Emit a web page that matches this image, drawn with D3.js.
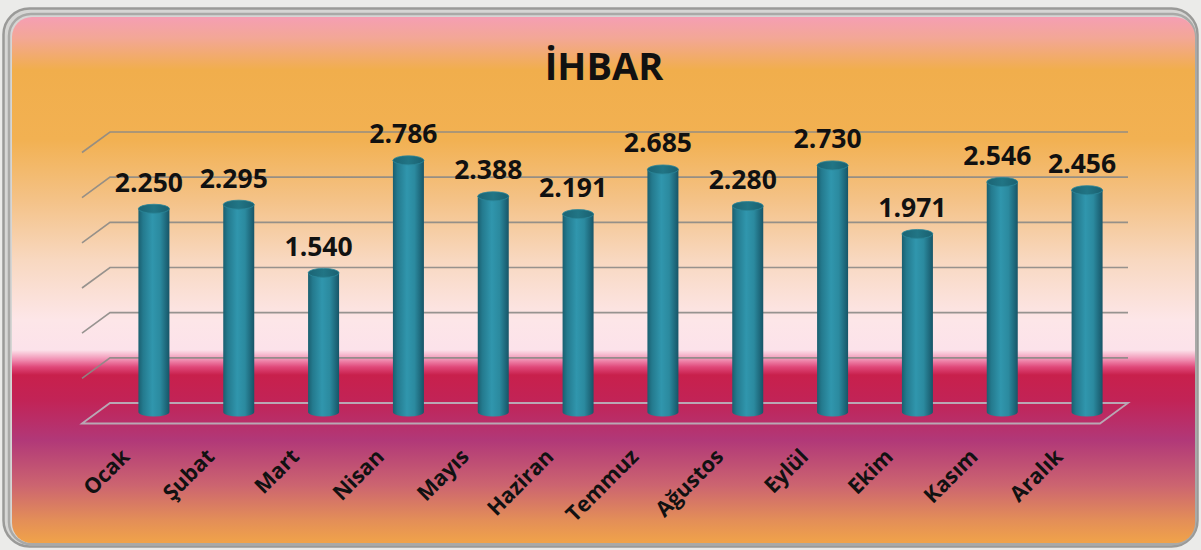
<!DOCTYPE html>
<html>
<head>
<meta charset="utf-8">
<script src="https://cdn.jsdelivr.net/npm/d3@7"></script>
<style>
  html, body { margin: 0; padding: 0; background: #ebebe9; }
  svg { display: block; }
</style>
</head>
<body>
<svg id="chart" width="1201" height="550"></svg>
<script>
// ---- data ----
const title = "İHBAR";
const months = ["Ocak","Şubat","Mart","Nisan","Mayıs","Haziran","Temmuz","Ağustos","Eylül","Ekim","Kasım","Aralık"];
const values = [2250, 2295, 1540, 2786, 2388, 2191, 2685, 2280, 2730, 1971, 2546, 2456];
const gridTicks = [500, 1000, 1500, 2000, 2500, 3000];
const yDomain = [0, 3000];

// ---- layout ----
const svg = d3.select("#chart");
const defs = svg.append("defs");

const wallLeft = 110, wallRight = 1128, wallBottom = 403, wallTop = 132;
const depthDx = -28, depthDy = 20.5;
const barBase = 412;

const locale = d3.formatLocale({decimal: ",", thousands: ".", grouping: [3], currency: ["", ""]});
const fmt = locale.format(",d");

// background gradient
const bg = defs.append("linearGradient").attr("id", "bg").attr("x1", 0).attr("x2", 0)
  .attr("gradientUnits", "userSpaceOnUse").attr("y1", 18).attr("y2", 542);
const span = 542 - 18;
[
  [18, "#f59fb2"], [38, "#f3a796"], [70, "#f1ae4c"], [140, "#f2b152"], [200, "#f4c287"],
  [260, "#f8d8c0"], [320, "#fde6e8"], [350, "#fce2ea"], [360, "#f08cb0"], [367, "#e0487a"],
  [375, "#c8204c"], [400, "#c22356"], [440, "#b13878"], [485, "#cc6470"], [520, "#e38e58"], [542, "#f0a24a"]
].forEach(([y, c]) => bg.append("stop").attr("offset", ((y - 18) / span)).attr("stop-color", c));

// cylinder gradient
const cyl = defs.append("linearGradient").attr("id", "cyl").attr("x1", 0).attr("x2", 1).attr("y1", 0).attr("y2", 0);
[[0, "#1a5f70"], [0.15, "#247a8e"], [0.45, "#3096ad"], [0.7, "#2b8a9f"], [1, "#175567"]]
  .forEach(([o, c]) => cyl.append("stop").attr("offset", o).attr("stop-color", c));
const capG = defs.append("linearGradient").attr("id", "cap").attr("x1", 0).attr("x2", 1).attr("y1", 0).attr("y2", 0);
[[0, "#1b6474"], [0.5, "#217585"], [1, "#1a6070"]]
  .forEach(([o, c]) => capG.append("stop").attr("offset", o).attr("stop-color", c));

// frame
svg.append("rect").attr("x", 3.5).attr("y", 8.5).attr("width", 1194).attr("height", 538)
  .attr("rx", 26).attr("fill", "#d6d6d4").attr("stroke", "#9a9a98").attr("stroke-width", 2.5);
svg.append("rect").attr("x", 9).attr("y", 14).attr("width", 1186).attr("height", 530)
  .attr("rx", 22).attr("fill", "none").attr("stroke", "#a9a9a7").attr("stroke-width", 2.5);
svg.append("rect").attr("x", 12).attr("y", 17).attr("width", 1183).attr("height", 526)
  .attr("rx", 20).attr("fill", "url(#bg)");

// title
svg.append("text").attr("x", 604).attr("y", 80).attr("text-anchor", "middle")
  .attr("font-family", "'Open Sans', sans-serif").attr("font-weight", "bold").attr("font-size", 38)
  .attr("fill", "#111").text(title);

// scales
const yWall = d3.scaleLinear().domain(yDomain).range([wallBottom, wallTop]);
const yBar = d3.scaleLinear().domain(yDomain).range([barBase, barBase - (wallBottom - wallTop)]);
const x = d3.scaleBand().domain(months).range([wallLeft + 1.5, wallRight + 1.5]).paddingInner(0).paddingOuter(0);

// gridlines on back wall + left side diagonals
const grid = svg.append("g");
gridTicks.forEach(t => {
  const y = yWall(t);
  grid.append("path")
    .attr("d", `M${wallLeft + depthDx},${y + depthDy}L${wallLeft},${y}L${wallRight},${y}`)
    .attr("fill", "none").attr("stroke", "#8c8a86").attr("stroke-width", 1.6).attr("stroke-opacity", 0.9);
});
// floor
const y0 = yWall(0);
grid.append("path")
  .attr("d", `M${wallLeft + depthDx},${y0 + depthDy}L${wallLeft},${y0}L${wallRight},${y0}L${wallRight + depthDx},${y0 + depthDy}Z`)
  .attr("fill", "none").attr("stroke", "#b9a7b4").attr("stroke-width", 1.8);

// bars (cylinders)
const rx = 15.5, ry = 4.5;
const bars = svg.append("g").selectAll("g").data(months).join("g");
bars.each(function (m, i) {
  const g = d3.select(this);
  const cx = x(m) + x.bandwidth() / 2;
  const yt = yBar(values[i]);
  g.append("path")
    .attr("d", `M${cx - rx},${yt}L${cx - rx},${barBase}A${rx},${ry} 0 0 0 ${cx + rx},${barBase}L${cx + rx},${yt}Z`)
    .attr("fill", "url(#cyl)");
  g.append("ellipse").attr("cx", cx).attr("cy", yt).attr("rx", rx).attr("ry", ry)
    .attr("fill", "url(#cap)").attr("stroke", "#2b8799").attr("stroke-width", 0.8);
  // value label
  g.append("text").attr("x", cx - 5).attr("y", yt - 17).attr("text-anchor", "middle")
    .attr("font-family", "'Open Sans', sans-serif").attr("font-weight", "bold").attr("font-size", 26.5)
    .attr("fill", "#111").text(fmt(values[i]));
  // category label
  g.append("text").attr("transform", `translate(${cx - 23},${458}) rotate(-45)`).attr("text-anchor", "end")
    .attr("font-family", "'Open Sans', sans-serif").attr("font-weight", "bold").attr("font-size", 21.5)
    .attr("fill", "#111").text(m);
});
</script>
</body>
</html>
